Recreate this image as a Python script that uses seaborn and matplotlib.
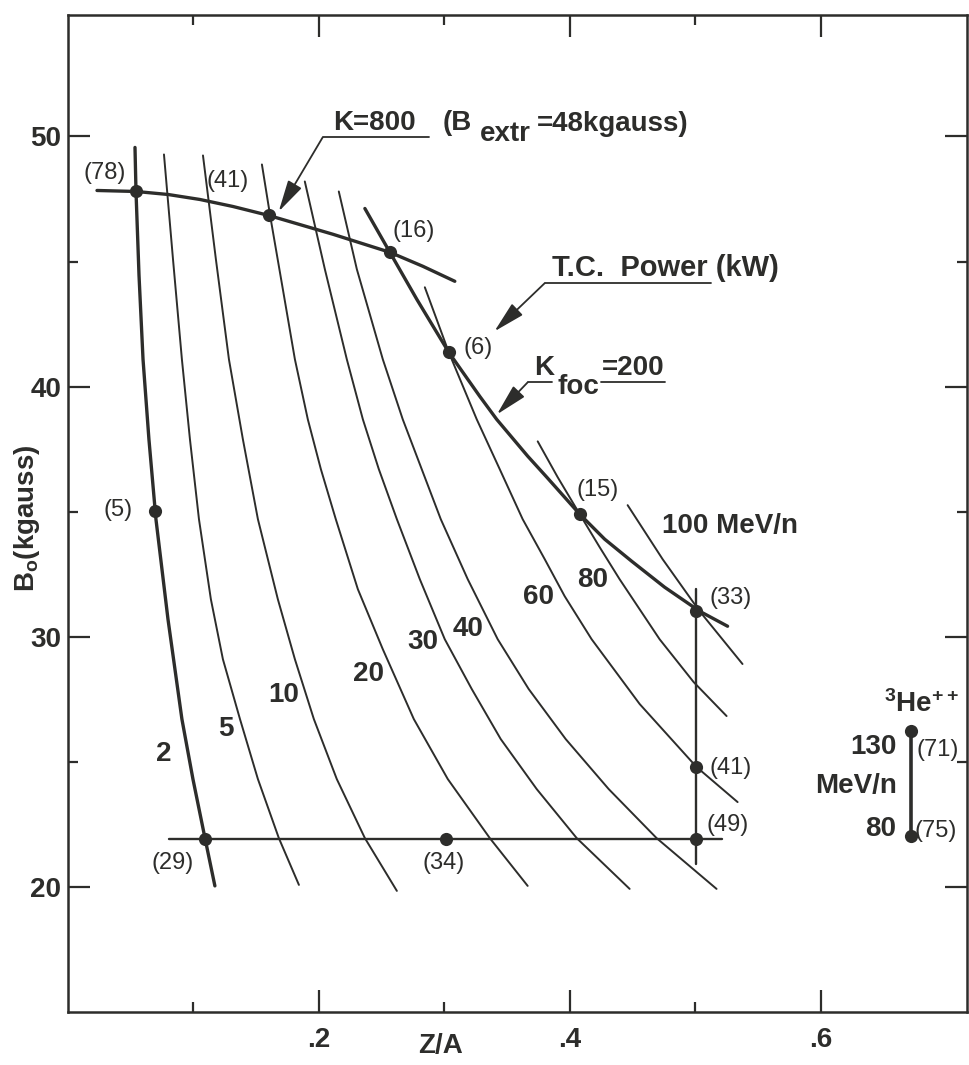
import matplotlib
matplotlib.use('Agg')
import matplotlib.pyplot as plt
import seaborn as sns
import pandas as pd
from matplotlib.ticker import FixedLocator, FixedFormatter

INK = '#2d2d2b'

# iso-energy curves (MeV/n): Z/A vs B0 (kgauss)
mev2_x = [0.0534, 0.0542, 0.0566, 0.0598, 0.0645, 0.0701, 0.0797, 0.0908, 0.0996, 0.1092, 0.1171]
mev2_y = [49.56, 47.80, 44.45, 41.09, 37.90, 34.70, 30.70, 26.71, 24.31, 21.95, 20.04]
mev5_x = [0.0765, 0.0837, 0.0908, 0.0972, 0.1044, 0.1139, 0.1235, 0.1371, 0.1514, 0.1681, 0.1841]
mev5_y = [49.28, 45.09, 41.09, 37.90, 34.70, 31.50, 29.10, 26.71, 24.31, 21.95, 20.08]
mev10_x = [0.1076, 0.1179, 0.1283, 0.1394, 0.1514, 0.1673, 0.1809, 0.1960, 0.2143, 0.2367, 0.2622]
mev10_y = [49.24, 45.09, 41.09, 37.90, 34.70, 31.50, 29.10, 26.71, 24.31, 21.95, 19.84]
mev20_x = [0.1546, 0.1610, 0.1713, 0.1809, 0.1912, 0.2016, 0.2135, 0.2311, 0.2510, 0.2757,
           0.3028, 0.3363, 0.3665]
mev20_y = [48.88, 46.88, 43.89, 41.09, 38.69, 36.70, 34.70, 31.90, 29.50, 26.71,
           24.31, 21.95, 20.04]
mev30_x = [0.1888, 0.2048, 0.2223, 0.2351, 0.2478, 0.2622, 0.2805, 0.3004, 0.3219, 0.3450,
           0.3737, 0.4056, 0.4478]
mev30_y = [48.20, 44.69, 41.09, 38.69, 36.70, 34.70, 32.30, 29.90, 27.91, 25.91,
           23.91, 21.95, 19.92]
mev40_x = [0.2159, 0.2303, 0.2510, 0.2669, 0.2972, 0.3187, 0.3426, 0.3673, 0.3968, 0.4311,
           0.4693, 0.5171]
mev40_y = [47.80, 44.69, 41.09, 38.69, 34.70, 32.30, 29.90, 27.91, 25.91, 23.91,
           21.95, 19.92]
mev60_x = [0.2845, 0.3036, 0.3259, 0.3442, 0.3625, 0.3801, 0.3960, 0.4175, 0.4558, 0.5012, 0.5339]
mev60_y = [43.97, 41.37, 38.69, 36.70, 34.70, 33.10, 31.62, 29.90, 27.31, 24.79, 23.39]
mev80_x = [0.3745, 0.3904, 0.4080, 0.4239, 0.4398, 0.4717, 0.4988, 0.5251]
mev80_y = [37.81, 36.38, 34.90, 33.58, 32.30, 29.90, 28.19, 26.83]
mev100_x = [0.4462, 0.4741, 0.5036, 0.5378]
mev100_y = [35.26, 33.10, 31.02, 28.91]

# K = 800 limit and K_foc = 200 limit
k800_x = [0.0231, 0.0542, 0.0797, 0.1052, 0.1315, 0.1602, 0.2112, 0.2566, 0.2829, 0.3084]
k800_y = [47.84, 47.80, 47.68, 47.48, 47.20, 46.84, 46.09, 45.37, 44.81, 44.21]
kfoc_x = [0.2367, 0.2566, 0.2781, 0.3036, 0.3283, 0.3418, 0.3665, 0.3817, 0.4080, 0.4279,
          0.4494, 0.4757, 0.5036, 0.5259]
kfoc_y = [47.12, 45.37, 43.49, 41.37, 39.61, 38.69, 37.22, 36.38, 34.90, 33.90,
          33.02, 31.98, 31.02, 30.42]

# B0 = 22 kgauss and Z/A = 0.5 lines, 3He++ range
hline_x = [0.0805, 0.5211]
hline_y = [21.93, 21.93]
vline_x = [0.501, 0.501]
vline_y = [31.90, 20.91]
he_x = [0.672, 0.672]
he_y = [26.23, 22.03]

# operating points with T.C. power (kW)
dot_x = [0.054, 0.160, 0.2566, 0.3036, 0.0695, 0.408, 0.501, 0.501, 0.501, 0.109, 0.301, 0.672, 0.672]
dot_y = [47.80, 46.84, 45.37, 41.37, 35.02, 34.90, 31.02, 24.79, 21.93, 21.93, 21.93, 26.23, 22.03]
dot_lbl = ['(78)', '(41)', '(16)', '(6)', '(5)', '(15)', '(33)', '(41)', '(49)',
           '(29)', '(34)', '(71)', '(75)']
dot_lbl_pos = [(0.0126, 48.28), (0.1108, 47.96), (0.259, 46.00), (0.315, 41.29),
               (0.0279, 34.82), (0.4056, 35.62), (0.5116, 31.30), (0.5116, 24.51),
               (0.509, 22.23), (0.0669, 20.72), (0.283, 20.72), (0.6765, 25.23),
               (0.675, 21.99)]

energy_lbl = ['2', '5', '10', '20', '30', '40', '60', '80', '100 MeV/n']
energy_lbl_pos = [(0.0701, 25.03), (0.1195, 26.03), (0.1594, 27.39), (0.2271, 28.23),
                  (0.2709, 29.50), (0.3068, 30.02), (0.3625, 31.30), (0.4056, 31.98),
                  (0.474, 34.14)]

sns.set_style('white')
plt.rcParams['font.family'] = ['Liberation Sans', 'DejaVu Sans']
plt.rcParams['mathtext.fontset'] = 'custom'
plt.rcParams['mathtext.rm'] = 'Liberation Sans'
plt.rcParams['mathtext.bf'] = 'Liberation Sans:bold'
plt.rcParams['mathtext.default'] = 'bf'

thin = []
for e, xs, ys in [(5, mev5_x, mev5_y), (10, mev10_x, mev10_y), (20, mev20_x, mev20_y),
                  (30, mev30_x, mev30_y), (40, mev40_x, mev40_y), (60, mev60_x, mev60_y),
                  (80, mev80_x, mev80_y), (100, mev100_x, mev100_y)]:
    for x, y in zip(xs, ys):
        thin.append((e, x, y))
thin = pd.DataFrame(thin, columns=['mev', 'za', 'b0'])

thick = []
for name, xs, ys in [('2', mev2_x, mev2_y), ('k800', k800_x, k800_y), ('kfoc', kfoc_x, kfoc_y)]:
    for x, y in zip(xs, ys):
        thick.append((name, x, y))
thick = pd.DataFrame(thick, columns=['curve', 'za', 'b0'])

fig = plt.figure(figsize=(9.69, 10.65), dpi=100)
ax = fig.add_axes([0.0702, 0.0498, 0.928, 0.936])

sns.lineplot(data=thin, x='za', y='b0', units='mev', estimator=None, sort=False,
             color=INK, lw=1.4, ax=ax)
sns.lineplot(data=thick, x='za', y='b0', units='curve', estimator=None, sort=False,
             color=INK, lw=2.4, ax=ax)
ax.plot(hline_x, hline_y, color=INK, lw=1.7)
ax.plot(vline_x, vline_y, color=INK, lw=1.7)
ax.plot(he_x, he_y, color=INK, lw=2.6)
sns.scatterplot(x=dot_x, y=dot_y, s=90, color=INK, edgecolor=INK, linewidth=0, zorder=5, ax=ax)

for t, (x, y) in zip(dot_lbl, dot_lbl_pos):
    ax.text(x, y, t, fontsize=17, color=INK, va='baseline')
for t, (x, y) in zip(energy_lbl, energy_lbl_pos):
    ax.text(x, y, t, fontsize=20, fontweight='bold', color=INK, va='baseline')

bold = dict(fontsize=20, fontweight='bold', color=INK, va='baseline')
arrow = dict(arrowstyle='-|>,head_length=1.3,head_width=0.32', color=INK, lw=1.3,
             shrinkA=0, shrinkB=0, mutation_scale=15)

# K = 800 annotation
ax.text(0.211, 50.24, 'K=800', **bold)
ax.text(0.299, 50.24, '(B', **bold)
ax.text(0.328, 49.80, 'extr', **bold)
ax.text(0.374, 50.20, '=48kgauss)', **bold)
ax.plot([0.203, 0.288], [49.96, 49.96], color=INK, lw=1.3)
ax.annotate('', xy=(0.168, 47.0), xytext=(0.203, 49.96), arrowprops=arrow)

# T.C. power annotation
ax.text(0.386, 44.41, 'T.C.  Power (kW)', fontsize=21, fontweight='bold', color=INK,
        va='baseline')
ax.plot([0.380, 0.513], [44.13, 44.13], color=INK, lw=1.3)
ax.annotate('', xy=(0.340, 42.21), xytext=(0.380, 44.13), arrowprops=arrow)

# K_foc annotation
ax.text(0.372, 40.45, 'K', **bold)
ax.text(0.390, 39.69, 'foc', **bold)
ax.text(0.4255, 40.45, '=200', **bold)
ax.plot([0.3665, 0.3857], [40.17, 40.17], color=INK, lw=1.3)
ax.plot([0.4247, 0.4757], [40.17, 40.17], color=INK, lw=1.3)
ax.annotate('', xy=(0.342, 38.89), xytext=(0.3665, 40.17), arrowprops=arrow)

# 3He++ range
ax.text(0.651, 26.99, r'$^{3}$He$^{++}$', **bold)
ax.text(0.6606, 25.31, '130', ha='right', **bold)
ax.text(0.6606, 23.75, 'MeV/n', ha='right', **bold)
ax.text(0.6606, 22.03, '80', ha='right', **bold)

ax.set_xlim(0, 0.717)
ax.set_ylim(15, 54.85)
ax.xaxis.set_major_locator(FixedLocator([0.2, 0.4, 0.6]))
ax.xaxis.set_major_formatter(FixedFormatter(['.2', '.4', '.6']))
ax.xaxis.set_minor_locator(FixedLocator([0.1, 0.3, 0.5]))
ax.yaxis.set_major_locator(FixedLocator([20, 30, 40, 50]))
ax.yaxis.set_minor_locator(FixedLocator([25, 35, 45]))
ax.tick_params(which='both', direction='in', bottom=True, left=True, top=True, right=True,
               color=INK, width=1.6, labelcolor=INK)
ax.tick_params(which='major', length=16, labelsize=20)
ax.tick_params(which='minor', length=7)
ax.tick_params(axis='x', pad=11)
ax.tick_params(axis='y', pad=5)
for lab in ax.get_xticklabels() + ax.get_yticklabels():
    lab.set_fontweight('bold')
for sp in ax.spines.values():
    sp.set_color(INK)
    sp.set_linewidth(1.8)

ax.set_xlabel('Z/A', fontsize=20, fontweight='bold', color=INK)
ax.xaxis.set_label_coords(0.414, -0.021)
ax.set_ylabel(r'B$_{o}$(kgauss)', fontsize=20, fontweight='bold', color=INK)
ax.yaxis.set_label_coords(-0.029, 0.495)

fig.savefig('out.png', dpi=100, facecolor='white')
